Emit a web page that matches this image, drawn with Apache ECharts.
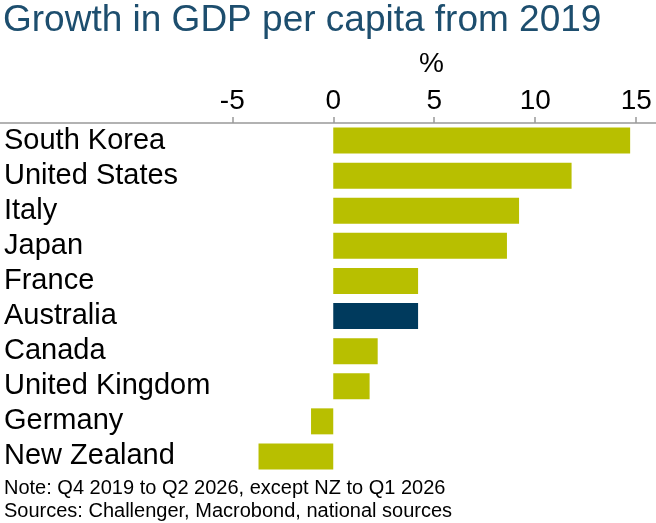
<!doctype html>
<html>
<head>
<meta charset="utf-8">
<script src="https://cdn.jsdelivr.net/npm/echarts@6/dist/echarts.min.js"></script>
<style>body{margin:0}#main{width:656px;height:523px}</style>
</head>
<body>
<div id="main"></div>
<script>
var countries = ['South Korea','United States','Italy','Japan','France','Australia','Canada','United Kingdom','Germany','New Zealand'];
var growth = [14.7, 11.8, 9.2, 8.6, 4.2, 4.2, 2.2, 1.8, -1.1, -3.7];
var tickValues = [-5, 0, 5, 10, 15];

var chart = echarts.init(document.getElementById('main'));
var font = 'Liberation Sans, Arial, sans-serif';
chart.setOption({
  animation: false,
  textStyle: {fontFamily: font},
  title: [
    {text: 'Growth in GDP per capita from 2019', left: 3, top: 2, padding: 0,
     textStyle: {fontFamily: font, fontSize: 37, fontWeight: 'normal', color: '#1d4e6e'}},
    {text: '%', left: 419, top: 50, padding: 0, textStyle: {fontFamily: font, fontSize: 28, fontWeight: 'normal', color: '#000'}},
    {text: 'Note: Q4 2019 to Q2 2026, except NZ to Q1 2026\nSources: Challenger, Macrobond, national sources',
     left: 4, top: 477, padding: 0, textStyle: {fontFamily: font, fontSize: 20, fontWeight: 'normal', color: '#000', lineHeight: 23}}
  ],
  grid: {left: 0, right: 0, top: 123, bottom: 49},
  xAxis: {
    type: 'value', position: 'top', min: -16.5, max: 15.98,
    axisLine: {show: true, lineStyle: {color: '#999', width: 1.5}},
    axisTick: {show: true, customValues: tickValues, length: 6, lineStyle: {color: '#999', width: 1.5}},
    axisLabel: {customValues: tickValues, fontSize: 28, color: '#000', margin: 8},
    splitLine: {show: false}
  },
  yAxis: {
    type: 'category', data: countries, inverse: true,
    axisLine: {show: false}, axisTick: {show: false},
    axisLabel: {inside: true, interval: 0, margin: 4, fontSize: 29, color: '#000'}
  },
  series: [{
    type: 'bar', barWidth: 26,
    data: growth.map(function (v, i) {
      return {value: v, itemStyle: {color: countries[i] == 'Australia' ? '#003a5d' : '#b8bf00'}};
    })
  }]
});
</script>
</body>
</html>
